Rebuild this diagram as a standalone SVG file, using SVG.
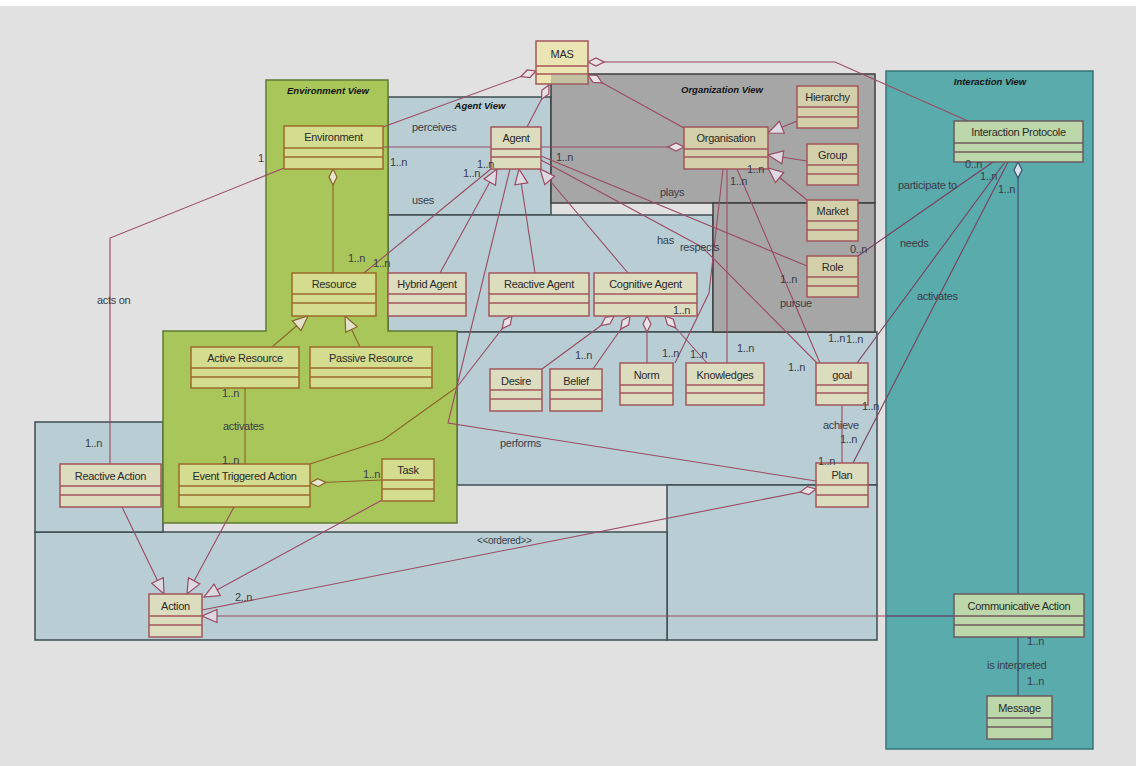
<svg xmlns="http://www.w3.org/2000/svg" width="1136" height="766" viewBox="0 0 1136 766">
<defs>
<style>
.pk{stroke-width:1.5}
.blue{fill:#b8ced4;stroke:#3f4d52}
.gray{fill:#a6a6a6;stroke:#3e3e3e}
.green{fill:#a9c65b;stroke:#5d7a33}
.teal{fill:#5aabab;stroke:#37767a}
.pl{font-family:"Liberation Sans",Arial,sans-serif;font-size:9.5px;font-weight:bold;font-style:italic;fill:#141414;text-anchor:middle}
.c{fill:none;stroke:#9a4a62;stroke-width:1.1}
.cb{fill:none;stroke:#8a6428;stroke-width:1.1}
.cn{fill:none;stroke:#3d4a73;stroke-width:1.1}
.cls rect{stroke:#a2565a;stroke-width:1.5}
.cls line{stroke:#a2565a;stroke-width:1.3}
.cls text{font-family:"Liberation Sans",Arial,sans-serif;font-size:11px;fill:#2a2a2a;text-anchor:middle;letter-spacing:-0.3px}
.fo rect{fill:#ebe5b4}
.fg rect{fill:#d3dc8f;stroke:#9c6a2c}
.fg line{stroke:#9c6a2c}
.fb rect{fill:#dcdcbf}
.fy rect{fill:#d2cfaa}
.ft rect{fill:#bcd7a9;stroke:#6e5a60}
.ft line{stroke:#6e5a60}
.lb{font-family:"Liberation Sans",Arial,sans-serif;font-size:11px;fill:#3a3c48;letter-spacing:-0.3px}
</style>
<marker id="gen" markerUnits="userSpaceOnUse" markerWidth="17" markerHeight="15" refX="16" refY="7.5" orient="auto" viewBox="0 0 17 15"><path d="M1,1 L16,7.5 L1,14 Z" fill="#dcd9e2" stroke="#9a4a62" stroke-width="1.2"/></marker>
<marker id="genB" markerUnits="userSpaceOnUse" markerWidth="17" markerHeight="15" refX="16" refY="7.5" orient="auto" viewBox="0 0 17 15"><path d="M1,1 L16,7.5 L1,14 Z" fill="#e2e2cc" stroke="#8a6428" stroke-width="1.2"/></marker>
<marker id="dia" markerUnits="userSpaceOnUse" markerWidth="18" markerHeight="10" refX="1" refY="5" orient="auto" viewBox="0 0 18 10"><path d="M1,5 L9,1 L17,5 L9,9 Z" fill="#e6e2e6" stroke="#9a4a62" stroke-width="1.2"/></marker>
<marker id="diaB" markerUnits="userSpaceOnUse" markerWidth="18" markerHeight="10" refX="1" refY="5" orient="auto" viewBox="0 0 18 10"><path d="M1,5 L9,1 L17,5 L9,9 Z" fill="#e6e6d0" stroke="#8a6428" stroke-width="1.2"/></marker>
<marker id="diaN" markerUnits="userSpaceOnUse" markerWidth="18" markerHeight="10" refX="1" refY="5" orient="auto" viewBox="0 0 18 10"><path d="M1,5 L9,1 L17,5 L9,9 Z" fill="#d8e4e4" stroke="#3d4a73" stroke-width="1.2"/></marker>
</defs>
<rect x="0" y="0" width="1136" height="766" fill="#ffffff"/>
<rect x="0" y="6" width="1136" height="760" fill="#e1e1e1"/>

<g id="packages">
<g id="agent-view">
<rect class="pk blue" x="388" y="97" width="163" height="118"/>
<rect class="pk blue" x="388" y="215" width="325" height="117"/>
<text class="pl" x="480" y="109">Agent View</text>
</g>
<rect class="pk blue" x="457" y="332" width="420" height="153"/>
<rect class="pk blue" x="667" y="485" width="210" height="155"/>
<rect class="pk blue" x="35" y="532" width="632" height="108"/>
<rect class="pk blue" x="35" y="422" width="128" height="110"/>
<g id="organization-view">
<rect class="pk gray" x="551" y="74" width="324" height="129"/>
<rect class="pk gray" x="713" y="203" width="162" height="129"/>
<text class="pl" x="722" y="93">Organization View</text>
</g>
<g id="environment-view">
<path class="pk green" d="M266,80 L388,80 L388,331 L457,331 L457,523 L163,523 L163,331 L266,331 Z"/>
<text class="pl" x="328" y="94">Environment View</text>
</g>
<g id="interaction-view">
<rect class="pk teal" x="886" y="71" width="207" height="678"/>
<text class="pl" x="990" y="85">Interaction View</text>
</g>
</g>

<g id="connectors">
<path class="c" d="M536,71 L383,127" marker-start="url(#dia)"/>
<path class="c" d="M549,85 L527,127" marker-start="url(#dia)"/>
<path class="c" d="M588,75 L684,128" marker-start="url(#dia)"/>
<path class="c" d="M588,62 L835,62 L968,121" marker-start="url(#dia)"/>
<path class="cb" d="M333,169 L333,273" marker-start="url(#diaB)"/>
<path class="c" d="M383,147 L491,147"/>
<path class="c" d="M684,147 L541,147" marker-start="url(#dia)"/>
<path class="c" d="M284,168 L110,238 L110,464"/>
<path class="c" d="M492,168 L364,273"/>
<path class="c" d="M440,273 L497,169" marker-end="url(#gen)"/>
<path class="c" d="M535,273 L519,169" marker-end="url(#gen)"/>
<path class="c" d="M628,273 L540,169" marker-end="url(#gen)"/>
<path class="c" d="M510,169 L448,423 L816,481"/>
<path class="c" d="M541,156 L807,266"/>
<path class="c" d="M541,160 L702,247 L817,363"/>
<path class="c" d="M723,169 L709,293 L675,363"/>
<path class="c" d="M727,169 L727,363"/>
<path class="c" d="M737,169 L820,363"/>
<path class="c" d="M797,121 L768,133" marker-end="url(#gen)"/>
<path class="c" d="M807,161 L768,155" marker-end="url(#gen)"/>
<path class="c" d="M807,200 L768,168" marker-end="url(#gen)"/>
<path class="c" d="M993,162 L858,256" style="stroke:#7a3f5c"/>
<path class="c" d="M1005,162 L857,363" style="stroke:#7a3f5c"/>
<path class="c" d="M1008,162 L853,463" style="stroke:#7a3f5c"/>
<path class="cn" d="M1018,162 L1018,594" marker-start="url(#diaN)"/>
<path class="cn" d="M1018,637 L1018,696"/>
<path class="c" d="M954,616 L202,616" marker-end="url(#gen)"/>
<path class="cn" d="M954,616 L886,616"/>
<path class="c" d="M816,489 L202,610" marker-start="url(#dia)"/>
<path class="c" d="M842,405 L842,463"/>
<path class="c" d="M614,316 L542,369" marker-start="url(#dia)"/>
<path class="c" d="M630,316 L593,369" marker-start="url(#dia)"/>
<path class="c" d="M647,316 L647,363" marker-start="url(#dia)"/>
<path class="c" d="M665,316 L707,363" marker-start="url(#dia)"/>
<path class="c" d="M512,316 L457,387" marker-start="url(#dia)"/>
<path class="cb" d="M457,387 L383,440 L310,464"/>
<path class="cb" d="M272,347 L308,316" marker-end="url(#genB)"/>
<path class="cb" d="M360,347 L345,316" marker-end="url(#genB)"/>
<path class="cb" d="M245,388 L245,464"/>
<path class="cb" d="M310,483 L382,480" marker-start="url(#diaB)"/>
<path class="c" d="M122,507 L164,594" marker-end="url(#gen)"/>
<path class="c" d="M234,507 L187,594" marker-end="url(#gen)"/>
<path class="c" d="M384,499 L204,597" marker-end="url(#gen)"/>
</g>

<g id="MAS" class="cls fo"><rect x="536" y="41" width="52" height="43"/><line x1="536" y1="66" x2="588" y2="66"/><line x1="536" y1="74" x2="588" y2="74"/><text x="562" y="58">MAS</text></g>
<rect x="551" y="74.5" width="37" height="9.5" fill="#7a7a7a" opacity="0.35"/>
<g id="Environment" class="cls fg"><rect x="284" y="126" width="99" height="43"/><line x1="284" y1="148" x2="383" y2="148"/><line x1="284" y1="157" x2="383" y2="157"/><text x="333.5" y="141">Environment</text></g>
<g id="Agent" class="cls fb"><rect x="491" y="127" width="50" height="42"/><line x1="491" y1="149" x2="541" y2="149"/><line x1="491" y1="157" x2="541" y2="157"/><text x="516" y="142">Agent</text></g>
<g id="Organisation" class="cls fy"><rect x="684" y="127" width="84" height="42"/><line x1="684" y1="149" x2="768" y2="149"/><line x1="684" y1="157" x2="768" y2="157"/><text x="726" y="142">Organisation</text></g>
<g id="Hierarchy" class="cls fy"><rect x="797" y="86" width="61" height="42"/><line x1="797" y1="107" x2="858" y2="107"/><line x1="797" y1="117" x2="858" y2="117"/><text x="827.5" y="101">Hierarchy</text></g>
<g id="Group" class="cls fy"><rect x="807" y="144" width="51" height="41"/><line x1="807" y1="165" x2="858" y2="165"/><line x1="807" y1="174" x2="858" y2="174"/><text x="832.5" y="159">Group</text></g>
<g id="Market" class="cls fy"><rect x="807" y="200" width="51" height="41"/><line x1="807" y1="221" x2="858" y2="221"/><line x1="807" y1="230" x2="858" y2="230"/><text x="832.5" y="215">Market</text></g>
<g id="Role" class="cls fy"><rect x="807" y="256" width="51" height="41"/><line x1="807" y1="277" x2="858" y2="277"/><line x1="807" y1="286" x2="858" y2="286"/><text x="832.5" y="271">Role</text></g>
<g id="InteractionProtocole" class="cls ft"><rect x="954" y="121" width="129" height="41"/><line x1="954" y1="143" x2="1083" y2="143"/><line x1="954" y1="152" x2="1083" y2="152"/><text x="1018.5" y="136">Interaction Protocole</text></g>
<g id="Resource" class="cls fg"><rect x="292" y="273" width="84" height="43"/><line x1="292" y1="294" x2="376" y2="294"/><line x1="292" y1="303" x2="376" y2="303"/><text x="334" y="288">Resource</text></g>
<g id="HybridAgent" class="cls fb"><rect x="388" y="273" width="78" height="43"/><line x1="388" y1="294" x2="466" y2="294"/><line x1="388" y1="303" x2="466" y2="303"/><text x="427" y="288">Hybrid Agent</text></g>
<g id="ReactiveAgent" class="cls fb"><rect x="489" y="273" width="100" height="43"/><line x1="489" y1="294" x2="589" y2="294"/><line x1="489" y1="303" x2="589" y2="303"/><text x="539" y="288">Reactive Agent</text></g>
<g id="CognitiveAgent" class="cls fb"><rect x="594" y="273" width="103" height="43"/><line x1="594" y1="294" x2="697" y2="294"/><line x1="594" y1="303" x2="697" y2="303"/><text x="645.5" y="288">Cognitive Agent</text></g>
<g id="ActiveResource" class="cls fg"><rect x="191" y="347" width="108" height="41"/><line x1="191" y1="368" x2="299" y2="368"/><line x1="191" y1="377" x2="299" y2="377"/><text x="245" y="362">Active Resource</text></g>
<g id="PassiveResource" class="cls fg"><rect x="310" y="347" width="122" height="41"/><line x1="310" y1="368" x2="432" y2="368"/><line x1="310" y1="377" x2="432" y2="377"/><text x="371" y="362">Passive Resource</text></g>
<g id="Desire" class="cls fb"><rect x="490" y="369" width="52" height="42"/><line x1="490" y1="390" x2="542" y2="390"/><line x1="490" y1="399" x2="542" y2="399"/><text x="516" y="385">Desire</text></g>
<g id="Belief" class="cls fb"><rect x="550" y="369" width="52" height="42"/><line x1="550" y1="390" x2="602" y2="390"/><line x1="550" y1="399" x2="602" y2="399"/><text x="576" y="385">Belief</text></g>
<g id="Norm" class="cls fb"><rect x="620" y="363" width="53" height="42"/><line x1="620" y1="385" x2="673" y2="385"/><line x1="620" y1="393" x2="673" y2="393"/><text x="646.5" y="379">Norm</text></g>
<g id="Knowledges" class="cls fb"><rect x="686" y="363" width="78" height="42"/><line x1="686" y1="385" x2="764" y2="385"/><line x1="686" y1="393" x2="764" y2="393"/><text x="725" y="379">Knowledges</text></g>
<g id="goal" class="cls fb"><rect x="816" y="363" width="52" height="42"/><line x1="816" y1="385" x2="868" y2="385"/><line x1="816" y1="393" x2="868" y2="393"/><text x="842" y="379">goal</text></g>
<g id="ReactiveAction" class="cls fb"><rect x="60" y="464" width="101" height="43"/><line x1="60" y1="486" x2="161" y2="486"/><line x1="60" y1="495" x2="161" y2="495"/><text x="110.5" y="480">Reactive Action</text></g>
<g id="EventTriggeredAction" class="cls fg"><rect x="179" y="464" width="131" height="43"/><line x1="179" y1="486" x2="310" y2="486"/><line x1="179" y1="495" x2="310" y2="495"/><text x="244.5" y="480">Event Triggered Action</text></g>
<g id="Task" class="cls fg"><rect x="382" y="459" width="52" height="42"/><line x1="382" y1="480" x2="434" y2="480"/><line x1="382" y1="489" x2="434" y2="489"/><text x="408" y="474">Task</text></g>
<g id="Plan" class="cls fb"><rect x="816" y="463" width="52" height="44"/><line x1="816" y1="485" x2="868" y2="485"/><line x1="816" y1="495" x2="868" y2="495"/><text x="842" y="479">Plan</text></g>
<g id="Action" class="cls fb"><rect x="149" y="594" width="53" height="43"/><line x1="149" y1="616" x2="202" y2="616"/><line x1="149" y1="625" x2="202" y2="625"/><text x="175.5" y="610">Action</text></g>
<g id="CommunicativeAction" class="cls ft"><rect x="954" y="594" width="130" height="43"/><line x1="954" y1="616" x2="1084" y2="616"/><line x1="954" y1="625" x2="1084" y2="625"/><text x="1019" y="610">Communicative Action</text></g>
<g id="Message" class="cls ft"><rect x="987" y="696" width="65" height="43"/><line x1="987" y1="718" x2="1052" y2="718"/><line x1="987" y1="727" x2="1052" y2="727"/><text x="1019.5" y="712">Message</text></g>

<g id="labels" class="lb">
<text x="412" y="131">perceives</text>
<text x="412" y="204">uses</text>
<text x="390" y="166">1..n</text>
<text x="258" y="162">1</text>
<text x="463" y="177">1..n</text>
<text x="477" y="168">1..n</text>
<text x="556" y="161">1..n</text>
<text x="660" y="196">plays</text>
<text x="657" y="244">has</text>
<text x="680" y="251">respects</text>
<text x="747" y="173">1..n</text>
<text x="730" y="185">1..n</text>
<text x="780" y="283">1..n</text>
<text x="780" y="307">pursue</text>
<text x="850" y="253">0..n</text>
<text x="828" y="342">1..n</text>
<text x="846" y="343">1..n</text>
<text x="788" y="371">1..n</text>
<text x="737" y="352">1..n</text>
<text x="662" y="357">1..n</text>
<text x="690" y="358">1..n</text>
<text x="575" y="359">1..n</text>
<text x="673" y="314">1..n</text>
<text x="500" y="447">performs</text>
<text x="97" y="304">acts on</text>
<text x="85" y="447">1..n</text>
<text x="222" y="397">1..n</text>
<text x="223" y="430">activates</text>
<text x="222" y="464">1..n</text>
<text x="363" y="478">1..n</text>
<text x="348" y="262">1..n</text>
<text x="373" y="267">1..n</text>
<text x="477" y="544" style="font-size:10px">&lt;&lt;ordered&gt;&gt;</text>
<text x="235" y="601">2..n</text>
<text x="823" y="429">achieve</text>
<text x="840" y="443">1..n</text>
<text x="818" y="465">1..n</text>
<text x="862" y="410">1..n</text>
<text x="917" y="300">activates</text>
<text x="965" y="168">0..n</text>
<text x="898" y="189">participate to</text>
<text x="980" y="180">1..n</text>
<text x="998" y="193">1..n</text>
<text x="900" y="247">needs</text>
<text x="1027" y="645">1..n</text>
<text x="987" y="669">is interpreted</text>
<text x="1027" y="685">1..n</text>
</g>
</svg>
